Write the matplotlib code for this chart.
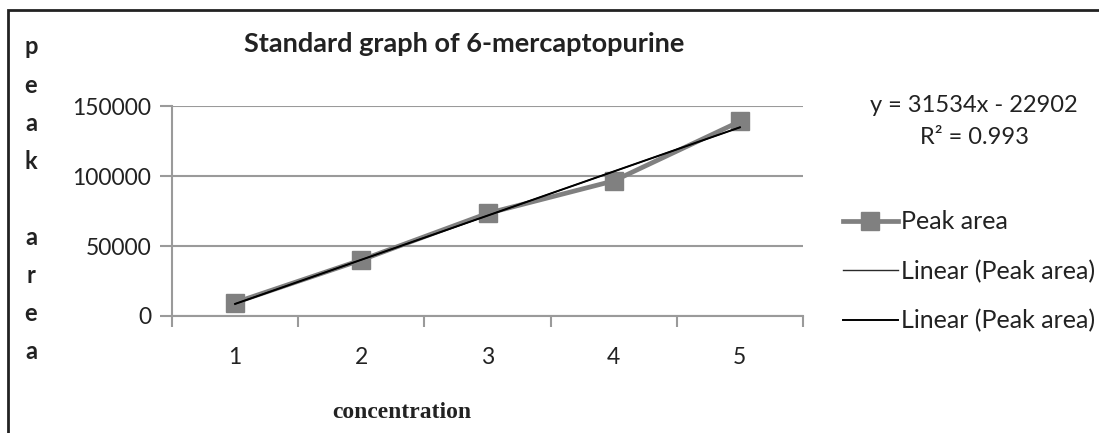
import numpy as np
import matplotlib
matplotlib.use("Agg")
import matplotlib.pyplot as plt
from matplotlib.patches import Rectangle

# ===============================
# Dados
# ===============================
concentracao = [1, 2, 3, 4, 5]
peak_area = [9600, 40000, 73300, 96500, 139000]
y_ticks = [0, 50000, 100000, 150000]

# coeficientes da linha de tendência (mostrados no gráfico)
slope = 31534
intercept = -22902
r2 = 0.993

plt.rcParams["font.family"] = ["Lato", "DejaVu Sans"]

fig = plt.figure(figsize=(10.99, 4.33), dpi=100)
ax = fig.add_axes([172 / 1099, 1 - 316 / 433, (803 - 172) / 1099, (316 - 106) / 433])

# série de dados
ax.plot(concentracao, peak_area, color="#808080", lw=3.4, marker="s", ms=12.5,
        mfc="#808080", mec="#808080", label="Peak area", zorder=3)

# linhas de tendência (duas, como no original)
x_fit = np.array([concentracao[0], concentracao[-1]])
y_fit = slope * x_fit + intercept
ax.plot(x_fit, y_fit, color="#2a2a2a", lw=1.0, label="Linear (Peak area)", zorder=4)
ax.plot(x_fit, y_fit, color="black", lw=1.4, label="Linear (Peak area)", zorder=5)

ax.set_xlim(0.5, 5.5)
ax.set_ylim(0, 150000)
ax.set_yticks(y_ticks)
ax.set_yticklabels([str(v) for v in y_ticks], fontsize=16.5, color="#222222")
ax.set_xticks(concentracao)
ax.set_xticklabels([str(v) for v in concentracao], fontsize=16.5, color="#222222")
ax.set_xticks(np.arange(0.5, 6.0, 1.0), minor=True)

ax.tick_params(axis="x", which="major", length=0, pad=22)
ax.tick_params(axis="x", which="minor", length=8, color="#9a9a9a", width=1.5, direction="out")
ax.tick_params(axis="y", length=9, color="#9a9a9a", width=1.5, direction="out", pad=6)

ax.grid(axis="y", color="#9a9a9a", lw=1.5)
ax.set_axisbelow(True)
for s in ["top", "right"]:
    ax.spines[s].set_visible(False)
for s in ["left", "bottom"]:
    ax.spines[s].set_color("#9a9a9a")
    ax.spines[s].set_linewidth(1.5)

# títulos
fig.text(464 / 1099, 1 - 44 / 433, "Standard graph of 6-mercaptopurine",
         fontsize=19.5, fontweight="bold", ha="center", va="center", color="#222222")
fig.text(402 / 1099, 1 - 412 / 433, "concentration", family="Liberation Serif",
         fontsize=17, fontweight="bold", ha="center", va="center", color="#222222")

# rótulo do eixo y, letra por letra
letras = "peak area"
for i, ch in enumerate(letras):
    if ch == " ":
        continue
    fig.text(31 / 1099, 1 - (47 + i * 38.1) / 433, ch, fontsize=17, fontweight="bold",
             ha="center", va="center", color="#222222")

# equação da tendência
fig.text(974 / 1099, 1 - 106 / 433, f"y = {slope}x - {abs(intercept)}",
         fontsize=17, ha="center", va="center", color="#222222")
fig.text(974 / 1099, 1 - 138 / 433, f"R² = {r2}",
         fontsize=17, ha="center", va="center", color="#222222")

leg = fig.legend(loc="upper left", bbox_to_anchor=(835 / 1099, 1 - 203 / 433),
                 frameon=False, fontsize=18, handlelength=2.2, handletextpad=0.15,
                 labelspacing=1.05, borderaxespad=0, borderpad=0.3)
for t in leg.get_texts():
    t.set_color("#222222")

# moldura da figura
fig.patches.append(Rectangle((8 / 1099, -0.05), 1.1, 1 - 10 / 433 + 0.05,
                             transform=fig.transFigure, fill=False,
                             edgecolor="#222222", lw=2))

fig.savefig("out.png", dpi=100)
